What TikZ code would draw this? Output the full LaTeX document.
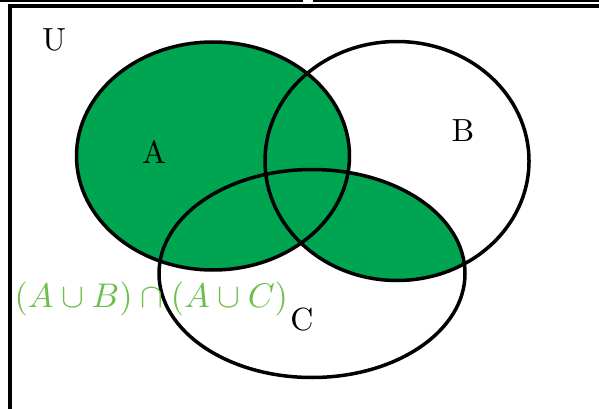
\documentclass[tikz,border=0pt]{standalone}
\begin{document}
\begin{tikzpicture}[x=1pt,y=-1pt,
  setline/.style={line width=3.5pt},
  lbl/.style={inner sep=0pt, scale=3.2},
  framelw/.style={line width=4pt}]
\definecolor{vgreen}{RGB}{0,165,81}
\definecolor{fgreen}{RGB}{108,190,74}
\useasboundingbox (0,0) rectangle (599,409);
% frame
\draw[line width=2pt] (0,1) -- (303,1);
\draw[line width=2pt] (313,1) -- (599,1);
\draw[framelw] (10,409) -- (10,6) -- (599,6);
% centres
\coordinate (cA) at (213,156);
\coordinate (cB) at (397,161);
\coordinate (cC) at (312,273.5);
% fill A u (B n C)
\fill[vgreen] (cA) ellipse [x radius=136.5pt, y radius=114pt];
\begin{scope}
  \clip (cB) ellipse [x radius=132pt, y radius=119.5pt];
  \fill[vgreen] (cC) ellipse [x radius=153pt, y radius=104pt];
\end{scope}
% outlines
\draw[setline] (cA) ellipse [x radius=136.5pt, y radius=114pt];
\draw[setline] (cB) ellipse [x radius=132pt, y radius=119.5pt];
\draw[setline] (cC) ellipse [x radius=153pt, y radius=104pt];
% labels
\node[lbl] (U) at (54,40) {U};
\node[lbl] (A) at (154,152) {A};
\node[lbl] (B) at (463,131) {B};
\node[lbl] (C) at (302,319.5) {C};
\node[lbl, scale=1.07, text=fgreen, anchor=west] (F) at (14,299) {$(A\cup B)\cap(A\cup C)$};
\end{tikzpicture}
\end{document}
